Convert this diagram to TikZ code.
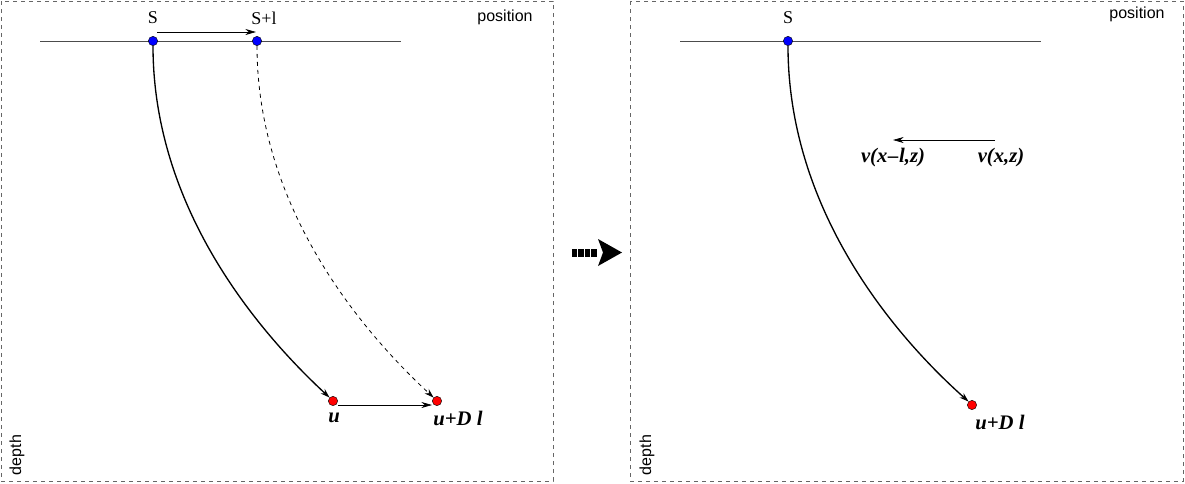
\documentclass[tikz,border=0pt]{standalone}
\usepackage{fontspec}
\setmainfont{Liberation Serif}
\setsansfont{Liberation Sans}
\usetikzlibrary{arrows.meta}
\begin{document}
\begin{tikzpicture}[x=0.75pt,y=-0.75pt,
  frame/.style={draw=black!60,dashed,line width=0.6pt},
  axis/.style={draw=black!70,line width=0.5pt},
  src/.style={circle,fill=blue,draw=black,line width=0.3pt,inner sep=0pt,minimum size=7pt},
  rcv/.style={circle,fill=red,draw=black,line width=0.3pt,inner sep=0pt,minimum size=7pt},
  ray/.style={line width=1pt,-{Stealth[length=7pt,width=4.5pt]}},
  dray/.style={line width=0.6pt,dashed,-{Stealth[length=7pt,width=4.5pt]}},
  shiftarrow/.style={line width=0.5pt,-{Stealth[length=8pt,width=4.5pt]}},
  lbl/.style={font=\fontsize{13.5pt}{15pt}\selectfont,inner sep=0pt},
  blbl/.style={font=\fontsize{15.5pt}{17pt}\selectfont\bfseries\itshape,inner sep=0pt},
  slbl/.style={font=\sffamily\fontsize{12pt}{14pt}\selectfont,inner sep=0pt},
  sq/.style={fill=black,inner sep=0pt,minimum width=3.8pt,minimum height=5.3pt}]
\useasboundingbox (0,0) rectangle (1185,483);
% frames
\draw[frame] (1,1) rectangle (553,481);
\draw[frame] (630,1) rectangle (1183,481);
% left panel
\coordinate (la) at (40,41);
\coordinate (lb) at (401,41);
\draw[axis] (la) -- (lb);
\node[src] (s1) at (153,41) {};
\node[src] (s2) at (257,41) {};
\node[lbl] (ls1) at (153,18) {S};
\node[lbl] (ls2) at (264,18) {S+l};
\coordinate (a1) at (157,32);
\coordinate (a2) at (256,32);
\draw[shiftarrow] (a1) -- (a2);
\node[rcv] (r1) at (333,401) {};
\node[rcv] (r2) at (437,401) {};
\draw[ray] (s1.south) .. controls (153,200) and (248,322) .. (r1.north west);
\draw[dray] (s2.south) .. controls (257,200) and (352,322) .. (r2.north west);
\coordinate (b1) at (338,405);
\coordinate (b2) at (432,405);
\draw[shiftarrow] (b1) -- (b2);
\node[blbl] (lu) at (334,418) {u};
\node[blbl] (lud) at (458,418) {u+D l};
\node[slbl] (lp) at (505,17) {position};
\node[slbl,rotate=90] (ld) at (17,455) {depth};
% middle arrow
\node[sq] (m1) at (574.5,253) {};
\node[sq] (m2) at (581,253) {};
\node[sq] (m3) at (587.5,253) {};
\node[sq] (m4) at (594,253) {};
\coordinate (t1) at (598,239);
\coordinate (t2) at (598,266);
\coordinate (t3) at (622,252.5);
\fill (t1) -- (t3) -- (t2) -- (603,252.5) -- cycle;
% right panel
\coordinate (ra) at (680,41);
\coordinate (rb) at (1041,41);
\draw[axis] (ra) -- (rb);
\node[src] (s3) at (788,41) {};
\node[lbl] (ls3) at (788,18) {S};
\node[rcv] (r3) at (972,405) {};
\draw[ray] (s3.south) .. controls (788,203) and (885,327) .. (r3.north west);
\node[blbl] (rud) at (1000,422) {u+D l};
\coordinate (c1) at (995,140);
\coordinate (c2) at (893,140);
\draw[shiftarrow] (c1) -- (c2);
\node[blbl] (v1) at (893,158) {v(x\kern0.5pt\textendash\kern0.5pt l,z)};
\node[blbl] (v2) at (1001,158) {v(x,z)};
\node[slbl] (rp) at (1137,14) {position};
\node[slbl,rotate=90] (rd) at (647,455) {depth};
\end{tikzpicture}
\end{document}
